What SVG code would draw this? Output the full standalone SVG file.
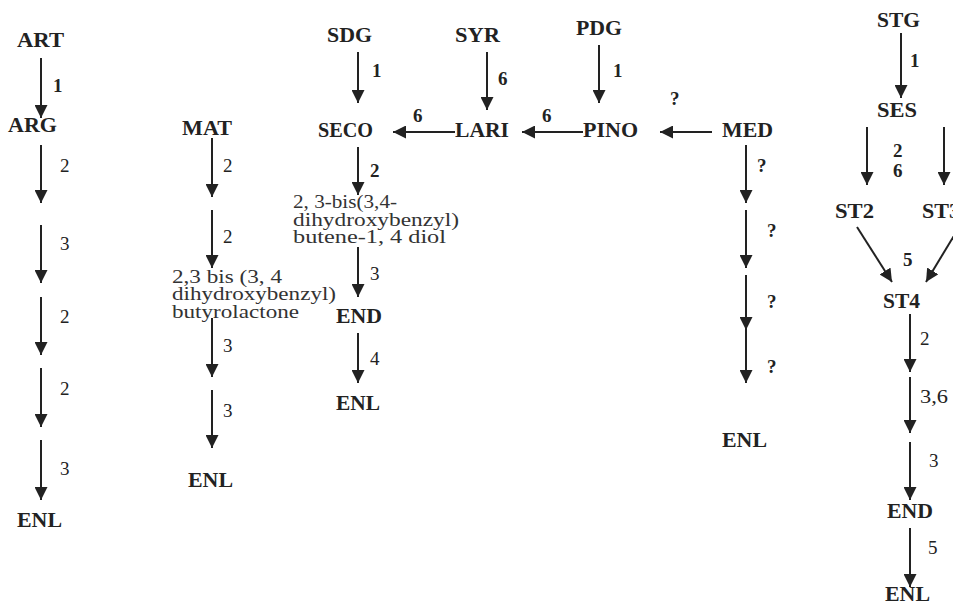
<svg xmlns="http://www.w3.org/2000/svg" width="953" height="605" viewBox="0 0 953 605">
<style>
.n{font-family:"Liberation Serif","Times New Roman",serif;font-weight:bold;font-size:21px;fill:#222}
.t{font-family:"Liberation Serif","Times New Roman",serif;font-size:19px;fill:#333}
.l{font-family:"Liberation Serif","Times New Roman",serif;font-size:19px;fill:#222}
.c line{stroke:#222;stroke-width:2;marker-end:url(#ah)}
</style>
<defs>
<marker id="ah" viewBox="0 0 13 13" refX="13" refY="6.5" markerWidth="13" markerHeight="13" markerUnits="userSpaceOnUse" orient="auto">
<path d="M0,0 L13,6.5 L0,13 z" fill="#222"/>
</marker>
</defs>
<rect width="953" height="605" fill="#fff"/>
<g id="connectors" class="c">
<line x1="41" y1="58" x2="41" y2="118"/>
<line x1="41" y1="145" x2="41" y2="203"/>
<line x1="41" y1="225" x2="41" y2="283"/>
<line x1="41" y1="297" x2="41" y2="355"/>
<line x1="41" y1="368" x2="41" y2="427"/>
<line x1="41" y1="440" x2="41" y2="500"/>
<line x1="212" y1="138" x2="212" y2="197"/>
<line x1="212" y1="210" x2="212" y2="268"/>
<line x1="212" y1="318" x2="212" y2="377"/>
<line x1="212" y1="390" x2="212" y2="448"/>
<line x1="358" y1="52" x2="358" y2="103"/>
<line x1="487" y1="52" x2="487" y2="110"/>
<line x1="599" y1="45" x2="599" y2="103"/>
<line x1="455" y1="132" x2="393" y2="132"/>
<line x1="583" y1="132" x2="522" y2="132"/>
<line x1="712" y1="132" x2="660" y2="132"/>
<line x1="358" y1="147" x2="358" y2="195"/>
<line x1="358" y1="247" x2="358" y2="297"/>
<line x1="358" y1="333" x2="358" y2="383"/>
<line x1="746" y1="145" x2="746" y2="203"/>
<line x1="746" y1="210" x2="746" y2="268"/>
<line x1="746" y1="275" x2="746" y2="330"/>
<line x1="746" y1="320" x2="746" y2="383"/>
<line x1="901" y1="33" x2="901" y2="98"/>
<line x1="867" y1="127" x2="867" y2="185"/>
<line x1="944" y1="127" x2="944" y2="185"/>
<line x1="857" y1="227" x2="892" y2="282"/>
<line x1="955" y1="234" x2="926" y2="282"/>
<line x1="910" y1="314" x2="910" y2="372"/>
<line x1="910" y1="377" x2="910" y2="433"/>
<line x1="910" y1="442" x2="910" y2="500"/>
<line x1="910" y1="528" x2="910" y2="587"/>
</g>
<g id="labels" class="l">
<text x="53" y="92" font-weight="bold">1</text>
<text x="60" y="172">2</text>
<text x="60" y="250">3</text>
<text x="60" y="323">2</text>
<text x="60" y="395">2</text>
<text x="60" y="475">3</text>
<text x="223" y="172">2</text>
<text x="223" y="243">2</text>
<text x="223" y="352">3</text>
<text x="223" y="417">3</text>
<text x="372" y="77" font-weight="bold">1</text>
<text x="498" y="85" font-weight="bold">6</text>
<text x="613" y="77" font-weight="bold">1</text>
<text x="413" y="122" font-weight="bold">6</text>
<text x="542" y="122" font-weight="bold">6</text>
<text x="670" y="105" font-weight="bold">?</text>
<text x="370" y="177" font-weight="bold">2</text>
<text x="370" y="280">3</text>
<text x="370" y="365">4</text>
<text x="757" y="172" font-weight="bold">?</text>
<text x="767" y="237" font-weight="bold">?</text>
<text x="767" y="308" font-weight="bold">?</text>
<text x="767" y="373" font-weight="bold">?</text>
<text x="910" y="67" font-weight="bold">1</text>
<text x="893" y="157" font-weight="bold">2</text>
<text x="893" y="177" font-weight="bold">6</text>
<text x="903" y="266" font-weight="bold">5</text>
<text x="920" y="345">2</text>
<text x="920" y="403" textLength="28" lengthAdjust="spacingAndGlyphs">3,6</text>
<text x="929" y="467">3</text>
<text x="928" y="554">5</text>
</g>
<g id="ART"><text class="n" x="17" y="47" textLength="47" lengthAdjust="spacingAndGlyphs">ART</text></g>
<g id="ARG"><text class="n" x="8" y="132" textLength="49" lengthAdjust="spacingAndGlyphs">ARG</text></g>
<g id="ENL1"><text class="n" x="17" y="527" textLength="45" lengthAdjust="spacingAndGlyphs">ENL</text></g>
<g id="MAT"><text class="n" x="182" y="135" textLength="50" lengthAdjust="spacingAndGlyphs">MAT</text></g>
<g id="BUTYRO">
<text class="t" x="172" y="283" textLength="110" lengthAdjust="spacingAndGlyphs">2,3 bis (3, 4</text>
<text class="t" x="172" y="300" textLength="164" lengthAdjust="spacingAndGlyphs">dihydroxybenzyl)</text>
<text class="t" x="172" y="318" textLength="127" lengthAdjust="spacingAndGlyphs">butyrolactone</text>
</g>
<g id="ENL2"><text class="n" x="188" y="487" textLength="45" lengthAdjust="spacingAndGlyphs">ENL</text></g>
<g id="SDG"><text class="n" x="327" y="42" textLength="45" lengthAdjust="spacingAndGlyphs">SDG</text></g>
<g id="SYR"><text class="n" x="455" y="42" textLength="45" lengthAdjust="spacingAndGlyphs">SYR</text></g>
<g id="PDG"><text class="n" x="576" y="35" textLength="46" lengthAdjust="spacingAndGlyphs">PDG</text></g>
<g id="SECO"><text class="n" x="318" y="137" textLength="55" lengthAdjust="spacingAndGlyphs">SECO</text></g>
<g id="LARI"><text class="n" x="455" y="137" textLength="54" lengthAdjust="spacingAndGlyphs">LARI</text></g>
<g id="PINO"><text class="n" x="583" y="137" textLength="55" lengthAdjust="spacingAndGlyphs">PINO</text></g>
<g id="MED"><text class="n" x="722" y="137" textLength="51" lengthAdjust="spacingAndGlyphs">MED</text></g>
<g id="BUTENE">
<text class="t" x="293" y="208" textLength="104" lengthAdjust="spacingAndGlyphs">2, 3-bis(3,4-</text>
<text class="t" x="293" y="226" textLength="166" lengthAdjust="spacingAndGlyphs">dihydroxybenzyl)</text>
<text class="t" x="293" y="243" textLength="153" lengthAdjust="spacingAndGlyphs">butene-1, 4 diol</text>
</g>
<g id="END3"><text class="n" x="336" y="323" textLength="46" lengthAdjust="spacingAndGlyphs">END</text></g>
<g id="ENL3"><text class="n" x="336" y="410" textLength="44" lengthAdjust="spacingAndGlyphs">ENL</text></g>
<g id="ENL4"><text class="n" x="722" y="447" textLength="45" lengthAdjust="spacingAndGlyphs">ENL</text></g>
<g id="STG"><text class="n" x="877" y="27" textLength="43" lengthAdjust="spacingAndGlyphs">STG</text></g>
<g id="SES"><text class="n" x="877" y="117" textLength="40" lengthAdjust="spacingAndGlyphs">SES</text></g>
<g id="ST2"><text class="n" x="835" y="218" textLength="39" lengthAdjust="spacingAndGlyphs">ST2</text></g>
<g id="ST3"><text class="n" x="922" y="218" textLength="38" lengthAdjust="spacingAndGlyphs">ST3</text></g>
<g id="ST4"><text class="n" x="883" y="308" textLength="37" lengthAdjust="spacingAndGlyphs">ST4</text></g>
<g id="END5"><text class="n" x="887" y="518" textLength="46" lengthAdjust="spacingAndGlyphs">END</text></g>
<g id="ENL5"><text class="n" x="885" y="601" textLength="45" lengthAdjust="spacingAndGlyphs">ENL</text></g>
</svg>
